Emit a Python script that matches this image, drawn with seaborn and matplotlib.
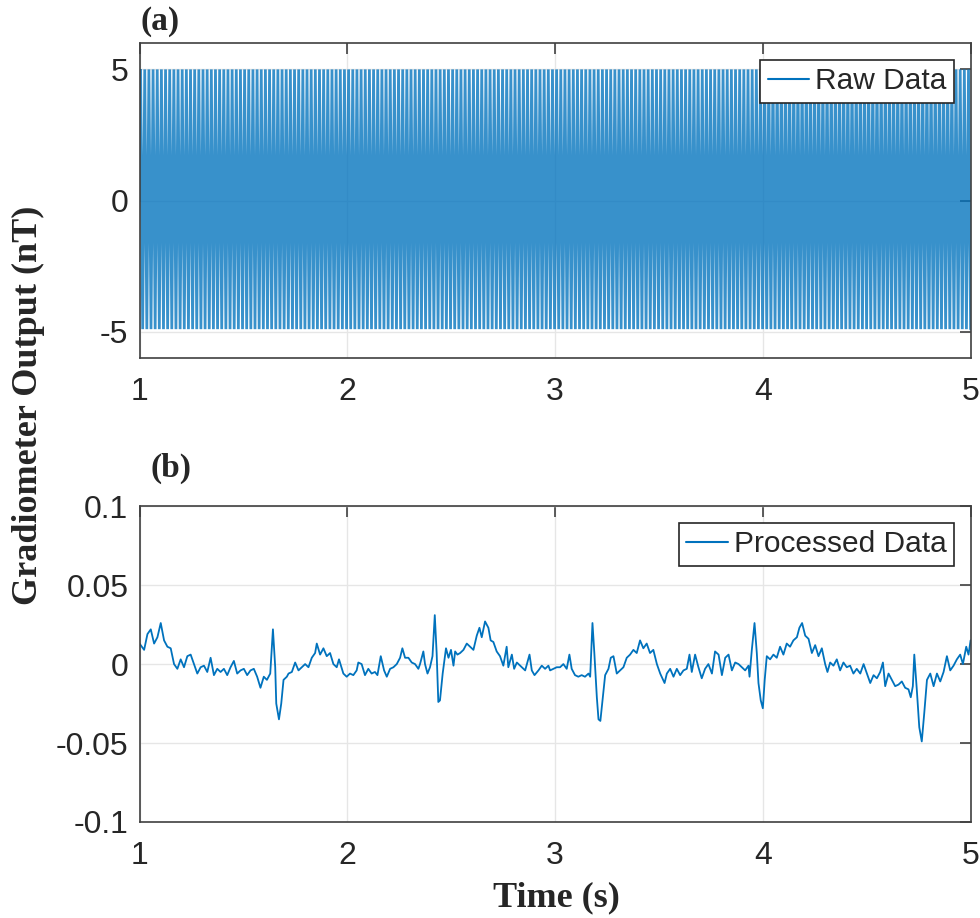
import numpy as np
import pandas as pd
import matplotlib
matplotlib.use("Agg")
from matplotlib import pyplot as plt
import seaborn as sns

# raw gradiometer output: 50 Hz oscillation, peaks, repeated over 1-5 s
raw_cycle = [0.0, 5.0, 0.0, -4.9]
raw_cycles = 200
raw_start, raw_end = 1.0, 5.0

# processed data
proc_t = [1.000, 1.022, 1.038, 1.054, 1.070, 1.086, 1.102, 1.118, 1.134, 1.150,
          1.166, 1.182, 1.198, 1.214, 1.230, 1.246, 1.262, 1.278, 1.294, 1.310,
          1.326, 1.342, 1.358, 1.374, 1.390, 1.406, 1.422, 1.438, 1.454, 1.470,
          1.486, 1.502, 1.518, 1.534, 1.550, 1.566, 1.582, 1.598, 1.613, 1.629,
          1.642, 1.653, 1.658, 1.671, 1.682, 1.693, 1.709, 1.717, 1.733, 1.749,
          1.765, 1.781, 1.797, 1.813, 1.829, 1.845, 1.853, 1.869, 1.885, 1.901,
          1.917, 1.933, 1.949, 1.960,
          1.981, 1.997, 2.013, 2.029, 2.045, 2.053, 2.069, 2.085, 2.101, 2.117,
          2.133, 2.145, 2.161, 2.177, 2.190, 2.206, 2.222, 2.238, 2.254, 2.265,
          2.278, 2.294, 2.310, 2.326, 2.342, 2.350, 2.366, 2.374, 2.386, 2.398,
          2.410, 2.421, 2.430, 2.438, 2.446, 2.459, 2.475, 2.487, 2.499, 2.511,
          2.519, 2.530, 2.543, 2.559, 2.575, 2.591, 2.607, 2.623, 2.636, 2.647,
          2.663, 2.679, 2.690, 2.703, 2.719, 2.735, 2.751, 2.767, 2.775, 2.792,
          2.803, 2.816, 2.832, 2.848, 2.856, 2.877, 2.888, 2.901, 2.920, 2.936,
          2.952, 2.968,
          2.976, 2.992, 3.008, 3.024, 3.040, 3.056, 3.069, 3.080, 3.096, 3.112,
          3.128, 3.144, 3.161, 3.169, 3.180, 3.189, 3.201, 3.209, 3.218, 3.230,
          3.241, 3.257, 3.268, 3.281, 3.297, 3.313, 3.329, 3.345, 3.361, 3.377,
          3.393, 3.409, 3.425, 3.441, 3.457, 3.473, 3.490, 3.506, 3.527, 3.538,
          3.554, 3.570, 3.586, 3.602, 3.618, 3.634, 3.647, 3.658, 3.674, 3.690,
          3.706, 3.722, 3.738, 3.755, 3.770, 3.787, 3.803, 3.819, 3.835, 3.851,
          3.867, 3.883, 3.899, 3.915, 3.931,
          3.936, 3.947, 3.960, 3.971, 3.979, 3.990, 4.000, 4.009, 4.019, 4.035,
          4.051, 4.067, 4.083, 4.099, 4.115, 4.131, 4.147, 4.164, 4.176, 4.189,
          4.204, 4.220, 4.236, 4.252, 4.268, 4.284, 4.300, 4.311, 4.324, 4.340,
          4.356, 4.372, 4.388, 4.404, 4.420, 4.436, 4.452, 4.469, 4.485, 4.501,
          4.517, 4.533, 4.549, 4.565, 4.578, 4.589, 4.605, 4.621, 4.637, 4.653,
          4.669, 4.685, 4.701, 4.712, 4.722, 4.729, 4.741, 4.753, 4.765, 4.777,
          4.790, 4.806, 4.822, 4.838, 4.854, 4.870, 4.886, 4.902, 4.918, 4.934,
          4.950, 4.963, 4.979, 4.990, 5.000]
proc_v = [0.013, 0.009, 0.019, 0.022, 0.013, 0.017, 0.026, 0.015, 0.011, 0.010,
          0.000, -0.003, 0.003, -0.002, 0.005, 0.006, 0.000, -0.006, -0.002, -0.001,
          -0.005, 0.004, -0.007, -0.003, -0.005, -0.003, -0.007, -0.002, 0.002, -0.006,
          -0.004, -0.003, -0.007, -0.004, -0.003, -0.008, -0.015, -0.008, -0.010, -0.006,
          0.022, -0.002, -0.025, -0.035, -0.025, -0.010, -0.008, -0.006, -0.005, 0.001,
          -0.004, -0.002, 0.000, -0.002, 0.004, 0.007, 0.013, 0.006, 0.010, 0.005,
          0.007, 0.000, -0.002, 0.003,
          -0.006, -0.008, -0.006, -0.007, -0.004, 0.001, 0.000, -0.007, -0.003, -0.006,
          -0.005, -0.007, 0.005, -0.004, -0.008, -0.003, -0.002, 0.000, 0.004, 0.010,
          0.004, 0.004, 0.001, 0.000, -0.003, 0.000, 0.008, 0.000, -0.006, -0.002,
          0.005, 0.031, 0.007, -0.024, -0.023, -0.006, 0.010, 0.004, 0.009, -0.001,
          0.008, 0.006, 0.007, 0.009, 0.013, 0.011, 0.009, 0.018, 0.023, 0.017,
          0.027, 0.023, 0.015, 0.014, 0.008, 0.005, -0.001, 0.011, -0.002, 0.006,
          -0.003, 0.001, -0.001, -0.003, -0.004, 0.006, -0.004, -0.007, -0.004, -0.001,
          -0.003, -0.001,
          -0.004, -0.003, -0.002, -0.002, 0.000, -0.003, 0.006, -0.003, -0.007, -0.008,
          -0.007, -0.008, -0.006, -0.008, 0.026, 0.007, -0.021, -0.035, -0.036, -0.021,
          -0.007, -0.003, 0.004, 0.005, -0.006, -0.004, -0.002, 0.004, 0.006, 0.009,
          0.007, 0.015, 0.010, 0.013, 0.007, 0.009, 0.000, -0.006, -0.012, -0.006,
          -0.003, -0.008, -0.003, -0.007, -0.004, -0.003, 0.006, -0.005, 0.006, -0.002,
          -0.009, -0.003, 0.000, -0.006, 0.008, 0.006, -0.007, 0.004, 0.006, -0.004,
          0.001, 0.000, -0.002, -0.004, -0.001,
          -0.008, 0.009, 0.026, 0.007, -0.012, -0.023, -0.028, -0.010, 0.005, 0.003,
          0.006, 0.004, 0.011, 0.006, 0.013, 0.011, 0.015, 0.017, 0.023, 0.026,
          0.018, 0.016, 0.007, 0.012, 0.005, 0.010, 0.000, -0.005, 0.001, -0.001,
          0.003, -0.004, 0.001, -0.002, -0.001, -0.006, -0.003, -0.006, 0.000, -0.006,
          -0.012, -0.007, -0.009, -0.005, 0.001, -0.014, -0.006, -0.010, -0.014, -0.013,
          -0.011, -0.015, -0.016, -0.021, -0.014, 0.006, -0.016, -0.040, -0.049, -0.031,
          -0.010, -0.006, -0.014, -0.006, -0.011, -0.005, 0.005, -0.004, -0.001, 0.003,
          0.006, 0.000, 0.011, 0.006, 0.015]

x_ticks = [1, 2, 3, 4, 5]
raw_yticks = [-5, 0, 5]
proc_yticks = [-0.1, -0.05, 0, 0.05, 0.1]
proc_yticklabels = ["-0.1", "-0.05", "0", "0.05", "0.1"]

line_color = "#0072BD"
axis_color = "#404040"

sns.set_theme(style="white")
plt.rcParams["font.family"] = ["Liberation Sans", "DejaVu Sans"]

raw_v = np.tile(raw_cycle, raw_cycles)
raw_t = np.linspace(raw_start, raw_end, len(raw_v))
raw_df = pd.DataFrame({"Time": raw_t, "Output": raw_v})
proc_df = pd.DataFrame({"Time": proc_t, "Output": proc_v})

fig = plt.figure(figsize=(9.8, 9.18), dpi=100)
ax1 = fig.add_axes([0.1424, 0.610, 0.848, 0.343])
ax2 = fig.add_axes([0.1424, 0.1046, 0.848, 0.344])

sns.lineplot(data=raw_df, x="Time", y="Output", ax=ax1, color=line_color,
             linewidth=2.0, alpha=0.78, estimator=None, label="Raw Data",
             solid_joinstyle="miter")
sns.lineplot(data=proc_df, x="Time", y="Output", ax=ax2, color=line_color,
             linewidth=1.3, estimator=None, label="Processed Data")

ax1.set_ylim(-6, 6)
ax1.set_yticks(raw_yticks)
ax1.set_yticklabels([str(v) for v in raw_yticks])
ax2.set_ylim(-0.1, 0.1)
ax2.set_yticks(proc_yticks)
ax2.set_yticklabels(proc_yticklabels)

for ax in (ax1, ax2):
    ax.set_xlim(1, 5)
    ax.set_xticks(x_ticks)
    ax.set_xticklabels([str(v) for v in x_ticks])
    ax.set_xlabel("")
    ax.set_ylabel("")
    ax.grid(True, color="#e6e6e6", linewidth=1.0)
    ax.set_axisbelow(True)
    for sp in ax.spines.values():
        sp.set_visible(True)
        sp.set_color(axis_color)
        sp.set_linewidth(1.2)
    ax.tick_params(direction="in", length=8, width=1.2, colors=axis_color,
                   labelsize=23, labelcolor="#262626", top=True, right=True)
    ax.tick_params(axis="x", pad=14)
    ax.tick_params(axis="y", pad=8)
    leg = ax.legend(loc="upper right", fontsize=21.5, frameon=True, fancybox=False,
                    framealpha=1, edgecolor="#262626", handlelength=1.4,
                    borderaxespad=0.55, borderpad=0.25, handletextpad=0.2)
    leg.get_frame().set_linewidth(1.2)
    for line in leg.get_lines():
        line.set_linewidth(1.5)
        line.set_alpha(1)

serif = ["Liberation Serif", "DejaVu Serif"]
fig.text(0.163, 0.977, "(a)", family=serif, fontweight="bold", fontsize=24,
         ha="center", va="center")
fig.text(0.175, 0.490, "(b)", family=serif, fontweight="bold", fontsize=24,
         ha="center", va="center")
fig.text(0.029, 0.558, "Gradiometer Output (nT)", family=serif, fontweight="bold",
         fontsize=26, rotation=90, ha="center", va="center")
fig.text(0.568, 0.022, "Time (s)", family=serif, fontweight="bold", fontsize=26,
         ha="center", va="center")

fig.savefig("out.png", dpi=100)
